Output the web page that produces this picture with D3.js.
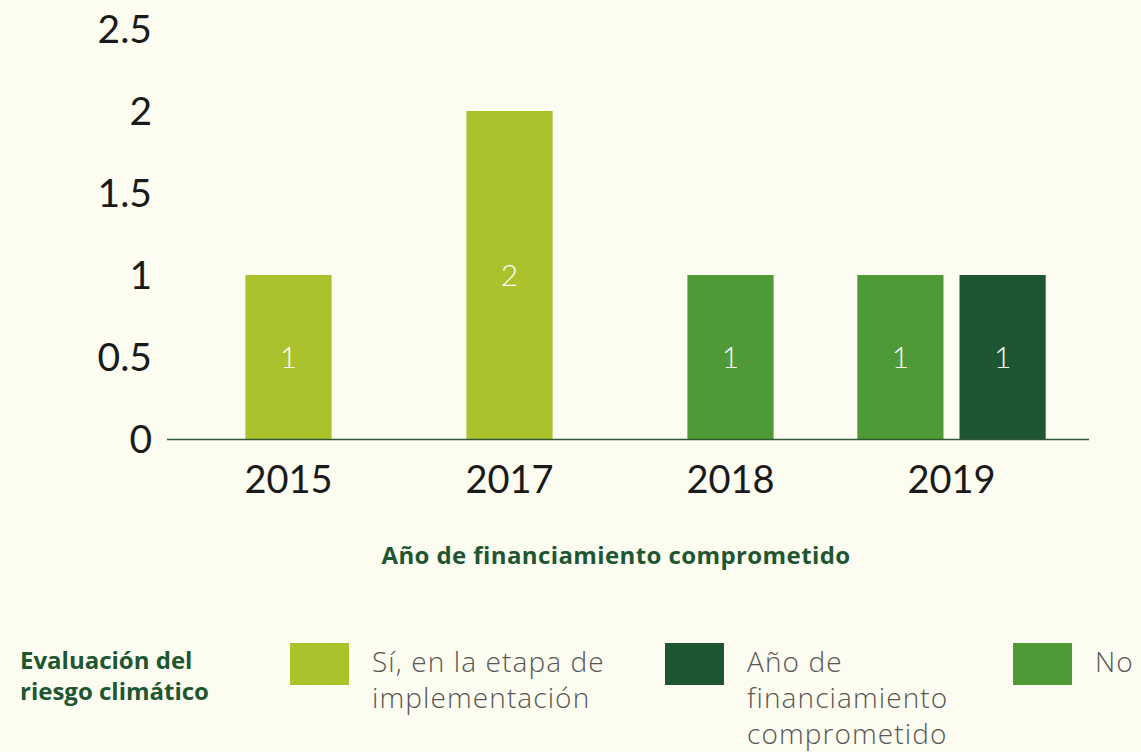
<!DOCTYPE html>
<html>
<head>
<meta charset="utf-8">
<script src="https://cdn.jsdelivr.net/npm/d3@7"></script>
<style>
  html, body { margin: 0; padding: 0; background: #fcfcf0; }
  svg { display: block; font-family: Lato, "Open Sans", sans-serif; }
  .nunitoLike { font-family: "Open Sans", "Noto Sans", sans-serif; }
</style>
</head>
<body>
<svg id="chart" width="1141" height="752"></svg>
<script>
"use strict";

// chart data
const years = ["2015", "2017", "2018", "2019"];
const seriesKeys = ["si", "ano", "no"];
const seriesNames = {
  si: ["Sí, en la etapa de", "implementación"],
  ano: ["Año de", "financiamiento", "comprometido"],
  no: ["No"]
};
const siValues = [1, 2, 0, 0];
const anoValues = [0, 0, 0, 1];
const noValues = [0, 0, 1, 1];
const yTicks = [0, 0.5, 1, 1.5, 2, 2.5];
const xTitle = "Año de financiamiento comprometido";
const legendTitle = ["Evaluación del", "riesgo climático"];

// order of bars inside one year group
const barOrder = ["si", "no", "ano"];
const colors = { si: "#abc22d", ano: "#1e5631", no: "#4f9a36" };
const valuesByKey = { si: siValues, ano: anoValues, no: noValues };

const svg = d3.select("#chart");

/* Scales */
const x = d3.scaleBand().domain(years).range([178, 1062]).padding(0);
const y = d3.scaleLinear().domain([0, 2.5]).range([439, 29]);
const barW = x.bandwidth() * 0.39;
const gap = 16;

/* Y axis labels, no axis line */
svg.append("g")
    .attr("class", "yLabels")
    .selectAll("text")
    .data(yTicks)
    .enter().append("text")
    .attr("x", 152)
    .attr("y", d => y(d))
    .attr("dy", "0.35em")
    .attr("text-anchor", "end")
    .style("font-size", "39px")
    .style("fill", "#1a1a1a")
    .text(d3.format("~g"));

/* Bars, grouped by year, zero values left out */
const bars = [];
years.forEach((yr, i) => {
  const keys = barOrder.filter(k => valuesByKey[k][i] > 0);
  const n = keys.length;
  const cx = x(yr) + x.bandwidth() / 2;
  const w = n * (barW + gap);
  const p = gap / (barW + gap);
  const inner = d3.scaleBand().domain(keys)
      .range([cx - w / 2, cx + w / 2])
      .paddingInner(p)
      .paddingOuter(p / 2);
  keys.forEach(k => bars.push({ year: yr, key: k, value: valuesByKey[k][i], x: inner(k), w: inner.bandwidth() }));
});

svg.append("g")
    .attr("class", "bars")
    .selectAll("rect")
    .data(bars)
    .enter().append("rect")
    .attr("x", d => d.x)
    .attr("y", d => y(d.value))
    .attr("width", d => d.w)
    .attr("height", d => y(0) - y(d.value))
    .attr("fill", d => colors[d.key]);

svg.append("g")
    .attr("class", "barLabels")
    .selectAll("text")
    .data(bars)
    .enter().append("text")
    .attr("x", d => d.x + d.w / 2)
    .attr("y", d => y(d.value / 2))
    .attr("dy", "0.35em")
    .attr("text-anchor", "middle")
    .style("font-size", "30px")
    .style("font-weight", 300)
    .style("fill", "#ffffff")
    .text(d => d.value);

/* Baseline */
svg.append("line")
    .attr("x1", 167).attr("x2", 1089)
    .attr("y1", y(0) + 0.5).attr("y2", y(0) + 0.5)
    .attr("stroke", "#2d5a34")
    .attr("stroke-width", 1.3);

/* X labels */
svg.append("g")
    .attr("class", "xLabels")
    .selectAll("text")
    .data(years)
    .enter().append("text")
    .attr("x", d => x(d) + x.bandwidth() / 2)
    .attr("y", 493)
    .attr("text-anchor", "middle")
    .style("font-size", "38px")
    .style("fill", "#1a1a1a")
    .text(d => d);

svg.append("text")
    .attr("class", "nunitoLike")
    .attr("x", 616)
    .attr("y", 564)
    .attr("text-anchor", "middle")
    .style("font-size", "24px")
    .style("font-weight", 700)
    .style("letter-spacing", "0.4px")
    .style("fill", "#1e5631")
    .text(xTitle);

/* Legend */
const legend = svg.append("g").attr("class", "legend nunitoLike");

legend.append("text")
    .attr("x", 20)
    .attr("y", 669)
    .style("font-size", "24px")
    .style("font-weight", 700)
    .style("fill", "#1e5631")
    .selectAll("tspan")
    .data(legendTitle)
    .enter().append("tspan")
    .attr("x", 20)
    .attr("dy", (d, i) => i === 0 ? 0 : 31)
    .text(d => d);

const legendX = { si: 290, ano: 665, no: 1013 };
const legendItems = legend.selectAll(".legendItem")
    .data(seriesKeys)
    .enter().append("g")
    .attr("class", "legendItem")
    .attr("transform", d => "translate(" + legendX[d] + ",643)");

legendItems.append("rect")
    .attr("width", 59)
    .attr("height", 42)
    .attr("fill", d => colors[d]);

legendItems.append("text")
    .attr("y", 29)
    .style("font-size", "28px")
    .style("font-weight", 300)
    .style("letter-spacing", "1.1px")
    .style("fill", "#575757")
    .selectAll("tspan")
    .data(d => seriesNames[d])
    .enter().append("tspan")
    .attr("x", 82)
    .attr("dy", (d, i) => i === 0 ? 0 : 36)
    .text(d => d);
</script>
</body>
</html>
